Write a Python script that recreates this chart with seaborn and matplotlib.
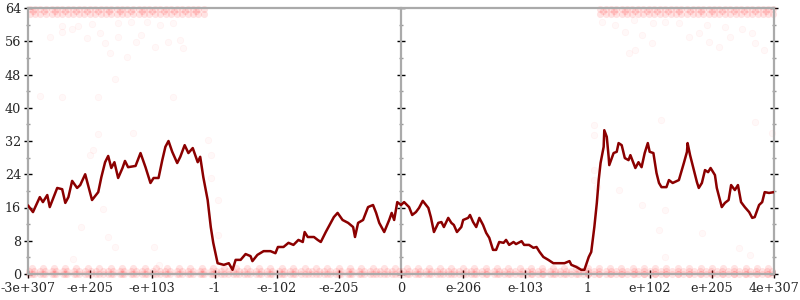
import matplotlib
matplotlib.use("Agg")
import matplotlib.pyplot as plt
from matplotlib.ticker import MultipleLocator, NullFormatter
import pandas as pd
import seaborn as sns

# ---------------- data ----------------
x_tick_pos = [-6, -5, -4, -3, -2, -1, 0, 1, 2, 3, 4, 5, 6]
x_tick_labels = ["-3e+307", "-e+205", "-e+103", "-1", "-e-102", "-e-205", "0",
                 "e-206", "e-103", "1", "e+102", "e+205", "4e+307"]
y_ticks = [0, 8, 16, 24, 32, 40, 48, 56, 64]

line_x = [-6.00, -5.92, -5.81, -5.76, -5.69, -5.65, -5.53, -5.45, -5.40, -5.35,
          -5.29, -5.21, -5.16, -5.08, -4.97, -4.87, -4.82, -4.76, -4.71, -4.66,
          -4.61, -4.55, -4.48, -4.44, -4.39, -4.27, -4.19, -4.11, -4.03, -3.98,
          -3.90, -3.84, -3.79, -3.74, -3.68, -3.60, -3.55, -3.48, -3.42, -3.35,
          -3.27, -3.23, -3.18, -3.11, -3.06, -3.02, -2.95,
          -2.85, -2.77, -2.71, -2.66, -2.58, -2.50, -2.42, -2.39, -2.31, -2.21,
          -2.10, -2.02, -1.98, -1.89, -1.81, -1.73, -1.65, -1.58, -1.55, -1.50,
          -1.40, -1.34, -1.29, -1.21, -1.13, -1.08, -1.02, -0.94, -0.85, -0.77,
          -0.74, -0.69, -0.61, -0.53, -0.45, -0.40, -0.35, -0.27, -0.19, -0.15,
          -0.11, -0.06, 0.00,
          0.05, 0.13, 0.18, 0.24, 0.29, 0.35, 0.44, 0.48, 0.53, 0.60,
          0.65, 0.69, 0.76, 0.81, 0.85, 0.90, 0.97, 1.00, 1.08, 1.11,
          1.16, 1.21, 1.26, 1.32, 1.37, 1.42, 1.48, 1.53, 1.58, 1.65,
          1.69, 1.74, 1.81, 1.85, 1.94, 1.98, 2.06, 2.13, 2.18, 2.23,
          2.29, 2.37, 2.45, 2.55, 2.63, 2.71, 2.74, 2.82, 2.90, 2.95,
          3.02, 3.06, 3.11, 3.15, 3.18, 3.21, 3.26, 3.27, 3.31, 3.34,
          3.35, 3.42, 3.47, 3.50, 3.55, 3.60, 3.66, 3.69, 3.74, 3.77,
          3.82, 3.87, 3.92, 3.97, 4.00, 4.06, 4.11, 4.15, 4.19, 4.27,
          4.31, 4.37, 4.47, 4.55, 4.60, 4.61, 4.65, 4.71, 4.76, 4.79,
          4.84, 4.89, 4.94, 4.98, 5.05, 5.08, 5.11, 5.16, 5.21, 5.27,
          5.31, 5.37, 5.42, 5.47, 5.53, 5.60, 5.65, 5.69, 5.76, 5.81,
          5.85, 5.92, 6.00]
line_y = [16.5, 14.9, 18.5, 17.3, 19.0, 16.1, 20.7, 20.4, 17.1, 18.5,
          22.4, 20.7, 21.4, 24.0, 17.8, 19.7, 23.3, 26.9, 28.4, 25.5,
          26.9, 23.1, 25.5, 27.2, 25.7, 26.0, 29.1, 25.7, 21.9, 23.1,
          23.1, 27.4, 30.6, 32.0, 29.4, 26.7, 28.2, 31.0, 29.1, 30.3,
          26.9, 28.2, 23.3, 17.8, 11.3, 7.5, 2.6,
          2.2, 2.6, 1.0, 3.4, 3.4, 4.8, 4.3, 3.1, 4.6, 5.5,
          5.5, 5.0, 6.5, 6.5, 7.5, 7.0, 8.2, 7.7, 10.1, 8.9,
          8.9, 8.2, 7.7, 10.1, 12.3, 13.7, 14.7, 13.0, 12.3, 11.3,
          8.9, 12.3, 13.0, 16.1, 16.6, 14.7, 12.3, 10.1, 13.0, 14.7,
          13.0, 17.3, 16.6,
          17.3, 16.1, 14.2, 14.9, 15.9, 17.6, 15.9, 13.7, 10.1, 12.3,
          12.5, 11.3, 13.5, 12.3, 11.8, 10.1, 11.3, 13.0, 13.5, 14.2,
          12.5, 11.3, 13.5, 11.8, 9.9, 8.7, 5.8, 5.8, 7.7, 7.5,
          8.2, 7.0, 7.7, 7.2, 7.9, 7.0, 7.0, 6.3, 6.5, 5.3,
          4.1, 3.4, 2.6, 2.6, 2.6, 3.1, 2.2, 1.7, 1.0, 1.0,
          4.1, 5.3, 11.3, 17.1, 22.6, 26.7, 30.6, 34.6, 33.0, 28.2,
          26.2, 29.1, 29.4, 31.5, 31.0, 27.9, 27.4, 28.6, 26.7, 25.5,
          26.9, 25.7, 29.1, 31.5, 29.4, 29.1, 24.3, 21.9, 20.9, 20.9,
          22.6, 21.9, 22.6, 26.7, 29.4, 31.5, 28.6, 25.0, 22.1, 20.7,
          21.9, 25.0, 24.5, 25.5, 23.8, 20.7, 19.0, 16.1, 17.1, 17.8,
          21.4, 20.2, 21.4, 17.3, 16.1, 14.9, 13.5, 13.7, 16.6, 17.3,
          19.7, 19.5, 19.7]
assert len(line_x) == len(line_y)

# dense rows of points (x positions) at the floor value 0 / 1
band0_x = [-5.98, -5.9, -5.81, -5.73, -5.62, -5.55, -5.44, -5.37, -5.26, -5.18, -5.09,
           -4.98, -4.91, -4.8, -4.72, -4.63, -4.52, -4.45, -4.34, -4.27, -4.16, -4.08,
           -3.99, -3.88, -3.8, -3.71, -3.61, -3.53, -3.42, -3.35, -3.24, -3.17, -3.06,
           -2.97, -2.9, -2.79, -2.71, -2.6, -2.53, -2.43, -2.34, -2.26, -2.15, -2.07,
           -1.96, -1.89, -1.78, -1.7, -1.61, -1.5, -1.43, -1.32, -1.24, -1.15, -1.05,
           -0.97, -0.86, -0.79, -0.68, -0.6, -0.5, -0.41, -0.33, -0.22, -0.15, -0.04,
           0.04, 0.13, 0.23, 0.3, 0.41, 0.49, 0.58, 0.68, 0.76, 0.86, 0.93, 1.04, 1.12,
           1.21, 1.31, 1.39, 1.49, 1.57, 1.66, 1.76, 1.84, 1.94, 2.02, 2.11, 2.21, 2.29,
           2.39, 2.47, 2.56, 2.66, 2.74, 2.84, 2.92, 3.01, 3.11, 3.19, 3.29, 3.37, 3.46,
           3.56, 3.64, 3.74, 3.82, 3.91, 4.01, 4.09, 4.19, 4.27, 4.36, 4.46, 4.54, 4.64,
           4.72, 4.81, 4.91, 4.99, 5.09, 5.17, 5.26, 5.36, 5.44, 5.54, 5.62, 5.71, 5.81,
           5.89, 5.97]
band1_x = [-5.94, -5.76, -5.58, -5.41, -5.22, -5.03, -4.86, -4.67, -4.49, -4.31, -4.12,
           -3.94, -3.76, -3.57, -3.39, -3.2, -3.02, -2.84, -2.65, -2.47, -2.29, -2.1,
           -1.92, -1.74, -1.55, -1.37, -1.19, -1.0, -0.82, -0.64, -0.45, -0.27, -0.09,
           0.09, 0.27, 0.45, 0.63, 0.81, 1.0, 1.18, 1.36, 1.54, 1.72, 1.91, 2.09, 2.27,
           2.45, 2.63, 2.82, 3.0, 3.18, 3.36, 3.54, 3.73, 3.91, 4.09, 4.27, 4.45, 4.64,
           4.82, 5.0, 5.18, 5.36, 5.55, 5.73, 5.91]
# dense rows at the ceiling value 64 (outer regions only)
band64_x = [-5.97, -5.88, -5.8, -5.71, -5.62, -5.53, -5.45, -5.36, -5.27, -5.18, -5.1,
            -5.01, -4.92, -4.83, -4.75, -4.66, -4.57, -4.48, -4.4, -4.31, -4.22, -4.13,
            -4.05, -3.96, -3.87, -3.78, -3.7, -3.61, -3.52, -3.43, -3.35, -3.26, -3.17,
            3.2, 3.29, 3.37, 3.46, 3.55, 3.64, 3.72, 3.81, 3.9, 3.99, 4.07, 4.16, 4.25,
            4.34, 4.42, 4.51, 4.6, 4.69, 4.77, 4.86, 4.95, 5.04, 5.12, 5.21, 5.3, 5.39,
            5.47, 5.56, 5.65, 5.74, 5.82, 5.91, 5.99]
band63_x = [-5.92, -5.75, -5.57, -5.4, -5.22, -5.05, -4.87, -4.7, -4.52, -4.35, -4.17,
            -4.0, -3.82, -3.65, -3.47, -3.3, 3.25, 3.42, 3.6, 3.77, 3.95, 4.12, 4.3,
            4.47, 4.65, 4.82, 5.0, 5.17, 5.35, 5.52, 5.7, 5.87]
# scattered individual points
sparse_x = [-5.45, -5.65, -5.45, -5.29, -5.19, -5.05, -4.97, -4.84, -4.76, -4.68,
            -4.56, -4.55, -4.40, -4.35, -4.27, -4.19, -4.08, -3.95, -3.87, -3.74,
            -3.66, -3.55, -3.50, -4.60, -5.81, -5.45, -4.87, -3.66,
            3.23, 3.44, 3.60, 3.74, 3.87, 4.03, 4.06, 4.24, 4.47, 4.63, 4.79, 4.92,
            4.95, 5.11, 5.21, 5.29, 5.48, 5.65, 5.69, 5.84, 3.66, 3.76,
            -4.87, -4.31, -4.95, -5.00, -3.10, -3.06, -4.79, -5.15, -4.71, -4.60,
            -5.27, -3.97, -3.90, -3.06, -2.95, -2.95, 3.11, 3.11, 3.10, 3.10, 3.15,
            3.50, 3.87, 4.24, 4.15, 4.84, 5.44, 5.61, 4.24, 5.97, 5.69, 4.19]
sparse_y = [59.7, 57.0, 58.2, 59.0, 59.7, 56.8, 60.2, 58.0, 55.6, 53.2,
            60.4, 57.0, 52.3, 60.6, 55.8, 57.5, 60.6, 54.6, 59.9, 55.8,
            60.4, 56.3, 54.4, 46.9, 42.8, 42.6, 42.6, 42.6,
            60.6, 59.9, 58.2, 61.1, 57.5, 55.6, 60.4, 60.6, 60.4, 57.0, 58.0, 59.9,
            55.8, 54.6, 59.4, 57.0, 59.0, 58.0, 55.6, 53.9, 53.2, 53.9,
            33.7, 33.9, 29.8, 28.6, 32.2, 28.6, 15.6, 11.3, 8.9, 6.5,
            3.6, 6.5, 2.2, 23.1, 17.8, 9.4, 35.9, 33.4, 25.0, 22.6, 20.9,
            20.2, 16.6, 15.4, 10.6, 9.9, 6.3, 4.6, 4.1, 33.9, 36.6, 37.0]
assert len(sparse_x) == len(sparse_y)

band_df = pd.DataFrame({
    "x": band0_x + band1_x + band0_x + band1_x + band64_x + band63_x + band64_x,
    "y": [0.0] * len(band0_x) + [0.0] * len(band1_x) + [0.8] * len(band0_x)
         + [1.4] * len(band1_x) + [63.7] * len(band64_x) + [63.2] * len(band63_x)
         + [62.6] * len(band64_x),
})
sparse_df = pd.DataFrame({"x": sparse_x, "y": sparse_y})
line_df = pd.DataFrame({"x": line_x, "y": line_y})

# ---------------- plot ----------------
sns.set_style("white")
plt.rcParams["font.family"] = ["DejaVu Serif"]

fig = plt.figure(figsize=(8, 3), dpi=100)
ax = fig.add_axes([28 / 800, 26 / 300, 746 / 800, 266 / 300])

sns.scatterplot(data=band_df, x="x", y="y", ax=ax, color="#ff1a1a", alpha=0.12,
                s=26, linewidth=0, clip_on=False, zorder=2)
sns.scatterplot(data=sparse_df, x="x", y="y", ax=ax, color="#ff4040", alpha=0.035,
                s=22, edgecolor="#ff2020", linewidth=0.6, clip_on=False, zorder=2)
sns.lineplot(data=line_df, x="x", y="y", ax=ax, color="#8b0000", linewidth=1.8,
             sort=False, zorder=3)

ax.set_xlim(-6, 6)
ax.set_ylim(0, 64)
ax.set_xlabel("")
ax.set_ylabel("")

ax.set_xticks(x_tick_pos)
ax.set_xticklabels(x_tick_labels)
ax.set_yticks(y_ticks)
ax.set_yticklabels([str(v) for v in y_ticks])
ax.yaxis.set_minor_locator(MultipleLocator(4))

ax.tick_params(axis="x", which="major", direction="inout", length=6, width=1,
               color="black", labelsize=9.2, pad=3, bottom=True)
ax.tick_params(axis="y", which="major", direction="inout", length=6, width=1,
               color="black", labelsize=9.2, pad=2, left=True, right=True,
               labelright=False)
ax.tick_params(axis="y", which="minor", direction="inout", length=3.5, width=1,
               color="#999999", left=True, right=True)

for side in ["left", "right", "top", "bottom"]:
    ax.spines[side].set_visible(True)
    ax.spines[side].set_color("#aaaaaa")
    ax.spines[side].set_linewidth(1.6)

# center vertical axis at x = 0
sec = ax.secondary_yaxis(0.5)
sec.set_yticks(y_ticks)
sec.yaxis.set_major_formatter(NullFormatter())
sec.yaxis.set_minor_locator(MultipleLocator(4))
sec.yaxis.set_minor_formatter(NullFormatter())
sec.tick_params(which="major", direction="inout", length=6, width=1, color="black")
sec.tick_params(which="minor", direction="inout", length=3.5, width=1, color="#999999")
for sp in sec.spines.values():
    sp.set_color("#aaaaaa")
    sp.set_linewidth(1.6)

fig.savefig("out.png", dpi=100)
